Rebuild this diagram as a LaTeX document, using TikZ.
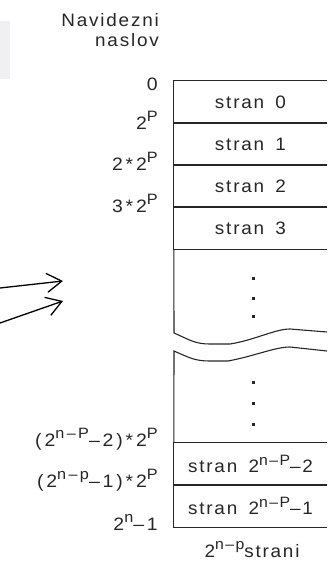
\documentclass[tikz,border=0pt]{standalone}
\usepackage{fontspec}
\setmainfont{Liberation Sans}[LetterSpace=10,WordSpace=1.6,FakeStretch=1.05]
\newfontfamily\addrfont{Liberation Sans}[LetterSpace=16,FakeStretch=1.08]
\usetikzlibrary{arrows.meta}
\definecolor{ink}{HTML}{262626}
\definecolor{panel}{HTML}{F0F0F2}
\newcommand\up[1]{\raisebox{7.5pt}{\fontsize{15}{15}\selectfont#1}}
\tikzset{
  row/.style={minimum width=153pt, minimum height=42pt, inner sep=0pt, font=\fontsize{18}{20}\selectfont, text=ink},
  addr/.style={anchor=base east, inner sep=0pt, font=\addrfont\fontsize{18}{20}\selectfont, text=ink},
  frame/.style={draw=ink, line width=1.1pt},
  arrow/.style={-{Straight Barb[length=15pt,width=19pt]}, line width=1.3pt, draw=black}
}
\begin{document}
\begin{tikzpicture}[x=1pt, y=-1pt]
\useasboundingbox (0,0) rectangle (327,562);
\fill[panel] (0,21) rectangle (10,79);
% page table
\node[row] (r0) at (250.5,102) {stran 0};
\node[row] (r1) at (250.5,144) {stran 1};
\node[row] (r2) at (250.5,186) {stran 2};
\node[row] (r3) at (250.5,228) {stran 3};
\node[row] (r5) at (250.5,464) {stran 2\up{n–P}–2};
\node[row] (r6) at (250.5,506) {stran 2\up{n–P}–1};
\node[row, anchor=base] (total) at (252,557) {2\up{n–p}strani};
\foreach \r in {r0,r1,r2,r3,r5,r6} {\draw[frame] (\r.north east) -- (\r.north west) -- (\r.south west) -- (\r.south east);}
\coordinate (w1) at (174,333);
\coordinate (w2) at (174,351);
\draw[frame] (r3.south west) -- (w1) .. controls (190,340) and (195,344) .. (210,344) -- (230,344) .. controls (255,340) and (275,329) .. (290,329) -- (327,332);
\draw[frame] (r5.north west) -- (w2) .. controls (190,358) and (195,361) .. (210,361) -- (228,361) .. controls (255,356) and (275,347) .. (290,347) -- (327,351);
\foreach \y in {278,298,316,382,403,424} {\fill[ink] (251.5,\y-1.5) rectangle +(3,3);}
% addresses
\node[anchor=north east, align=right, inner sep=0pt, font=\fontsize{18}{20}\selectfont, text=ink] (hd) at (159,13) {Navidezni\\naslov};
\node[addr] (l0) at (158,90) {0};
\node[addr] (l1) at (158,129) {2\up{P}};
\node[addr] (l2) at (158,170) {2*2\up{P}};
\node[addr] (l3) at (158,212) {3*2\up{P}};
\node[addr] (l5) at (158,446) {(2\up{n–P}–2)*2\up{P}};
\node[addr] (l6) at (158,487) {(2\up{n–p}–1)*2\up{P}};
\node[addr] (l7) at (158,530) {2\up{n}–1};
% incoming
\coordinate (a1) at (0,288);
\coordinate (b1) at (63,281);
\coordinate (a2) at (0,323);
\coordinate (b2) at (63,301);
\draw[arrow] (a1) -- (b1);
\draw[arrow] (a2) -- (b2);
\end{tikzpicture}
\end{document}
